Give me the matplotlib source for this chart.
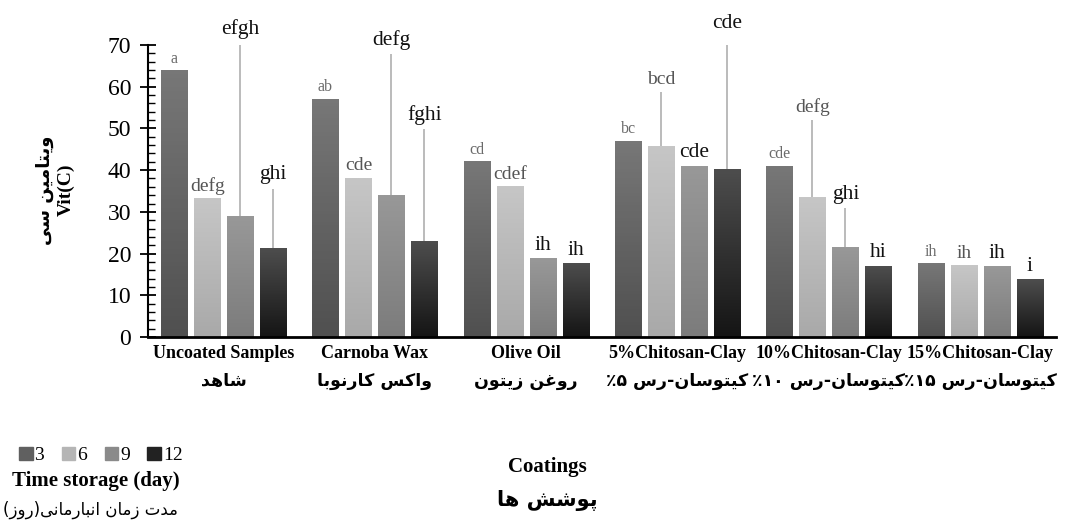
import numpy as np
import matplotlib.pyplot as plt
from matplotlib.colors import LinearSegmentedColormap
from matplotlib.patches import Patch
from matplotlib.ticker import MultipleLocator

# categories (English / Persian)
coatings_en = ['Uncoated Samples', 'Carnoba Wax', 'Olive Oil',
               '5%Chitosan-Clay', '10%Chitosan-Clay', '15%Chitosan-Clay']
coatings_fa = ['شاهد', 'واکس کارنوبا', 'روغن زیتون',
               'کیتوسان-رس ۵٪', 'کیتوسان-رس ۱۰٪', 'کیتوسان-رس ۱۵٪']
days = ['3', '6', '9', '12']

# vitamin C per storage day
day3 = [63.8, 57.0, 42.0, 46.9, 40.9, 17.5]
day6 = [33.1, 38.0, 36.0, 45.7, 33.4, 17.1]
day9 = [28.8, 33.9, 18.7, 40.9, 21.4, 16.8]
day12 = [21.1, 22.8, 17.5, 40.1, 16.9, 13.7]

# upper error (only the visible ones)
err3 = [0, 0, 0, 0, 0, 0]
err6 = [0, 0, 0, 13.0, 18.6, 0]
err9 = [41.7, 33.9, 0, 0, 9.6, 0]
err12 = [14.5, 27.0, 0, 31.8, 0, 0]

# significance letters
letters3 = ['a', 'ab', 'cd', 'bc', 'cde', 'ih']
letters6 = ['defg', 'cde', 'cdef', 'bcd', 'defg', 'ih']
letters9 = ['efgh', 'defg', 'ih', 'cde', 'ghi', 'ih']
letters12 = ['ghi', 'fghi', 'ih', 'cde', 'hi', 'i']

# --- minimal Persian shaping (presentation forms + visual order) ---
FORMS = {
    '\u0627': (0xFE8D, 0xFE8E, None, None),
    '\u0628': (0xFE8F, 0xFE90, 0xFE91, 0xFE92),
    '\u067E': (0xFB56, 0xFB57, 0xFB58, 0xFB59),
    '\u062A': (0xFE95, 0xFE96, 0xFE97, 0xFE98),
    '\u062F': (0xFEA9, 0xFEAA, None, None),
    '\u0631': (0xFEAD, 0xFEAE, None, None),
    '\u0632': (0xFEAF, 0xFEB0, None, None),
    '\u0633': (0xFEB1, 0xFEB2, 0xFEB3, 0xFEB4),
    '\u0634': (0xFEB5, 0xFEB6, 0xFEB7, 0xFEB8),
    '\u063A': (0xFECD, 0xFECE, 0xFECF, 0xFED0),
    '\u0645': (0xFEE1, 0xFEE2, 0xFEE3, 0xFEE4),
    '\u0646': (0xFEE5, 0xFEE6, 0xFEE7, 0xFEE8),
    '\u0647': (0xFEE9, 0xFEEA, 0xFEEB, 0xFEEC),
    '\u0648': (0xFEED, 0xFEEE, None, None),
    '\u06A9': (0xFB8E, 0xFB8F, 0xFB90, 0xFB91),
    '\u06CC': (0xFBFC, 0xFBFD, 0xFBFE, 0xFBFF),
}


def fa(text):
    chars = list(text)
    out = []
    for i, c in enumerate(chars):
        f = FORMS.get(c)
        if f is None:
            out.append(c)
            continue
        prev = FORMS.get(chars[i - 1]) if i > 0 else None
        nxt = FORMS.get(chars[i + 1]) if i + 1 < len(chars) else None
        jp = prev is not None and prev[2] is not None
        jn = nxt is not None and f[2] is not None
        if jp and jn:
            code = f[3]
        elif jp:
            code = f[1]
        elif jn:
            code = f[2]
        else:
            code = f[0]
        out.append(chr(code))
    res, run = [], []
    for c in out[::-1]:
        if c.isdigit():
            run.append(c)
        else:
            res.extend(run[::-1])
            run = []
            res.append({'(': ')', ')': '('}.get(c, c))
    res.extend(run[::-1])
    return ''.join(res)


SERIF = 'Liberation Serif'
FA_FONT = ['DejaVu Sans']

fig = plt.figure(figsize=(10.84, 5.28), dpi=100)
ax = fig.add_axes([0.1365, 0.3617, 0.8376, 0.5531])

x = np.arange(len(coatings_en))
step = 0.218
width = 0.172
series = [day3, day6, day9, day12]
errs = [err3, err6, err9, err12]
letters = [letters3, letters6, letters9, letters12]
grads = [('#505050', '#777777'), ('#a9a9a9', '#c6c6c6'),
         ('#7c7c7c', '#989898'), ('#151515', '#4d4d4d')]
legend_cols = ['#606060', '#b5b5b5', '#8a8a8a', '#222222']
lab_style = [('#6a6a6a', 11.5), ('#555555', 14), ('#111111', 15.5), ('#111111', 15.5)]

for k, (vals, er, lets) in enumerate(zip(series, errs, letters)):
    pos = x + (k - 1.5) * step
    bars = ax.bar(pos, vals, width=width, color='none', zorder=2)
    cmap = LinearSegmentedColormap.from_list('g%d' % k, list(grads[k]))
    for b in bars:
        x0, y0, w, h = b.get_x(), b.get_y(), b.get_width(), b.get_height()
        ax.imshow(np.linspace(0, 1, 64).reshape(-1, 1), cmap=cmap, origin='lower',
                  extent=[x0, x0 + w, y0, y0 + h], aspect='auto', zorder=2)
    tops = np.array(vals) + np.array(er)
    ax.vlines(pos, vals, tops, color='#a8a8a8', lw=1.1, zorder=1)
    col, fs = lab_style[k]
    for p, t, s in zip(pos, tops, lets):
        ax.annotate(s, (p, t), xytext=(0, 3), textcoords='offset points',
                    ha='center', va='bottom', fontsize=fs, color=col,
                    family=SERIF, annotation_clip=False)

ax.set_xlim(-0.5, len(coatings_en) - 0.5)
ax.set_ylim(0, 70)
ax.yaxis.set_major_locator(MultipleLocator(10))
ax.yaxis.set_minor_locator(MultipleLocator(2))
ax.tick_params(axis='y', which='major', direction='inout', length=12, width=1.3,
               labelsize=17, pad=6)
ax.tick_params(axis='y', which='minor', direction='in', length=5, width=1)
for lab in ax.get_yticklabels():
    lab.set_family(SERIF)

ax.set_xticks(x)
ax.set_xticklabels(coatings_en, family=SERIF, fontweight='bold', fontsize=13)
ax.tick_params(axis='x', length=0, pad=6)
for i, t in enumerate(coatings_fa):
    ax.annotate(fa(t), (i, 0), xycoords=('data', 'axes fraction'),
                xytext=(0, -32), textcoords='offset points', ha='center',
                va='center', fontsize=12.5, fontweight='bold', family=FA_FONT)

for s in ['top', 'right']:
    ax.spines[s].set_visible(False)
ax.spines['left'].set_linewidth(1.5)
ax.spines['bottom'].set_linewidth(2)

# y label (two lines)
fig.text(0.061, 0.64, 'Vit(C)', rotation=90, ha='center', va='center',
         family=SERIF, fontweight='bold', fontsize=14)
fig.text(0.041, 0.64, fa('ویتامین سی'), rotation=90, ha='center', va='center',
         family=FA_FONT, fontweight='bold', fontsize=13)

# x title
fig.text(0.505, 0.115, 'Coatings', ha='center', va='center',
         family=SERIF, fontweight='bold', fontsize=15)
fig.text(0.505, 0.053, fa('پوشش ها'), ha='center', va='center',
         family=FA_FONT, fontweight='bold', fontsize=15)

# legend
handles = [Patch(color=c) for c in legend_cols]
fig.legend(handles, days, loc='center', bbox_to_anchor=(0.093, 0.137), ncol=4,
           frameon=False, handlelength=0.7, handleheight=0.7, handletextpad=0.1,
           columnspacing=0.9, prop={'family': SERIF, 'size': 14})
fig.text(0.088, 0.089, 'Time storage (day)', ha='center', va='center',
         family=SERIF, fontweight='bold', fontsize=15)
fig.text(0.083, 0.034, fa('مدت زمان انبارمانی(روز)'), ha='center', va='center',
         family=FA_FONT, fontsize=12)

fig.savefig('out.png', dpi=100)
